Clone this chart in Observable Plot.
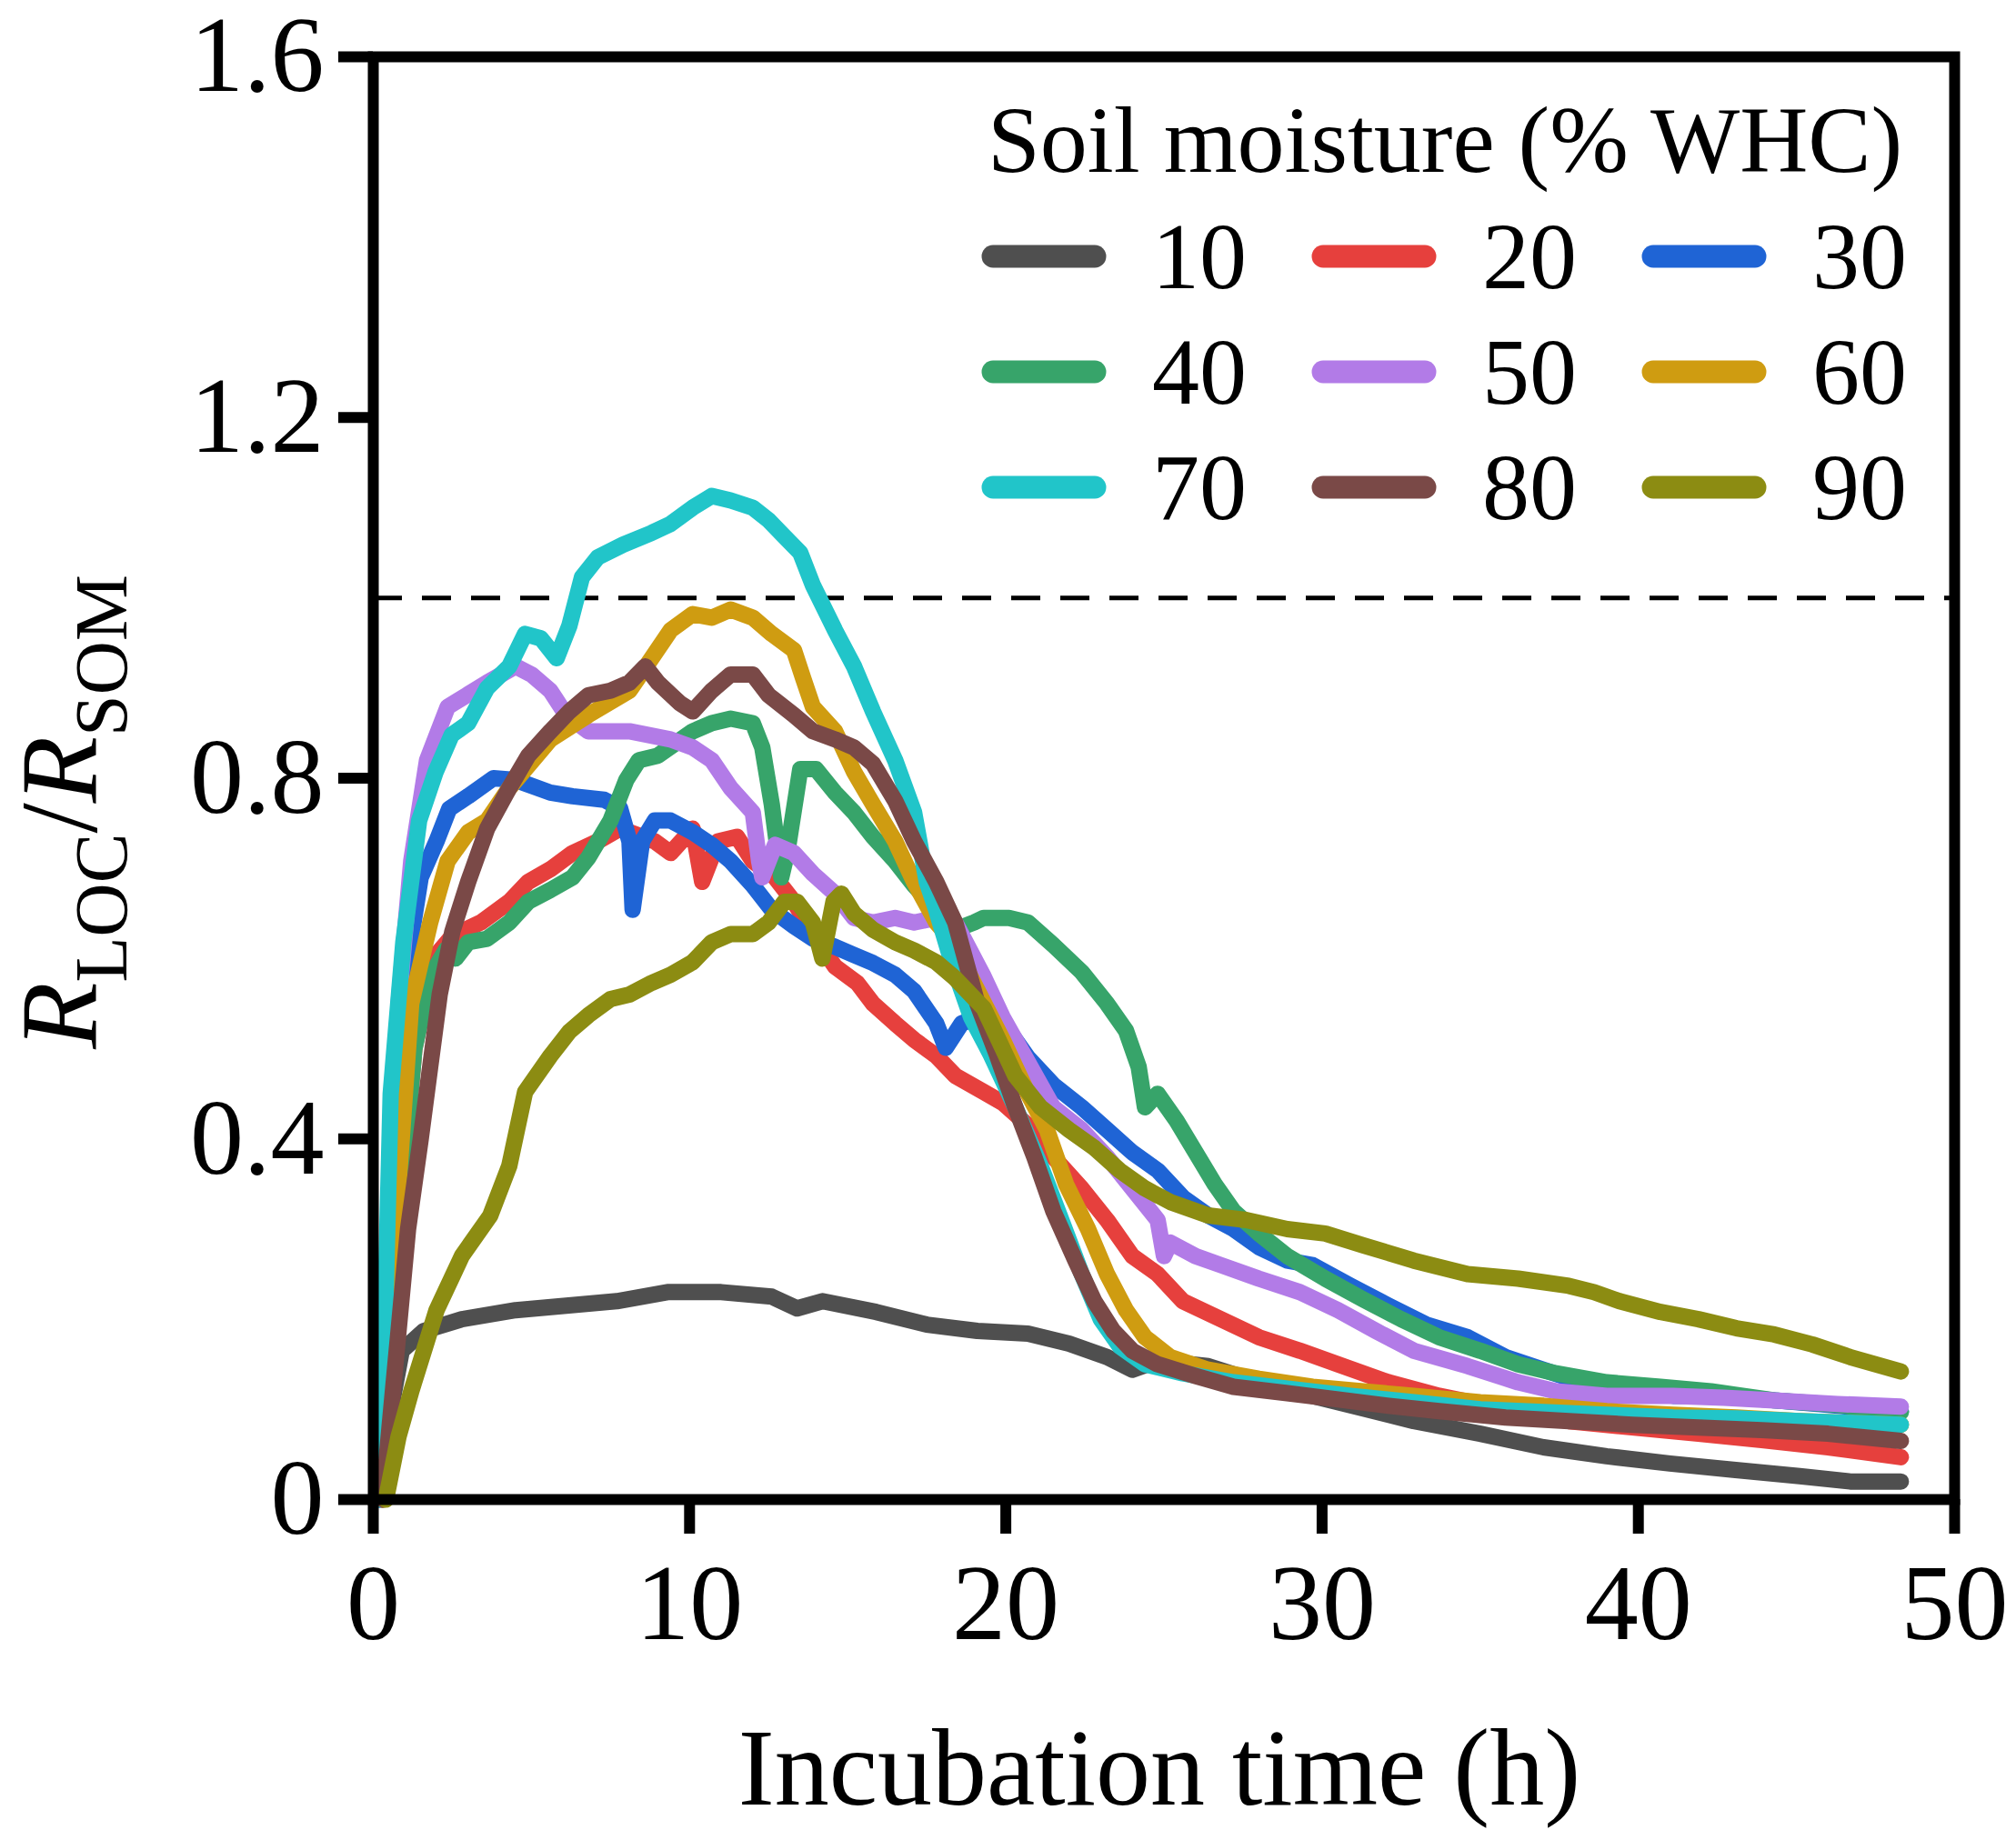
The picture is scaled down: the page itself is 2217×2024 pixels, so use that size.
<!DOCTYPE html>
<html><head><meta charset="utf-8">
<script src="https://cdn.jsdelivr.net/npm/d3@7"></script>
<script src="https://cdn.jsdelivr.net/npm/@observablehq/plot@0.6"></script>
<style>html,body{margin:0;padding:0;background:#fff;} #chart svg{display:block;}</style>
</head><body><div id="chart"></div>
<script>
// Soil moisture categories (% WHC) and their colours
const moisture = [10, 20, 30, 40, 50, 60, 70, 80, 90];
const colors = ["#4f4f4f", "#e6403d", "#1f64d5", "#37a46a", "#b27be7", "#cf9c11", "#21c5c9", "#7a4947", "#8c8c12"];
const xTicks = [0, 10, 20, 30, 40, 50];
const yTicks = [0, 0.4, 0.8, 1.2, 1.6];
const refLine = [1];

// [time (h), R_LOC/R_SOM]
const s10 = [[0.2,0],[0.5,0.09],[0.9,0.165],[1.6,0.187],[2.8,0.2],[4.5,0.21],[6.1,0.215],[7.7,0.22],[9.3,0.23],[11,0.23],[12.6,0.225],[13.4,0.212],[14.2,0.22],[15.9,0.208],[17.5,0.194],[19.1,0.187],[20.7,0.184],[22,0.173],[23.2,0.158],[24,0.144],[24.8,0.154],[26.4,0.148],[28,0.13],[29.7,0.115],[31.3,0.101],[32.9,0.087],[35,0.073],[37,0.058],[39,0.048],[41,0.04],[43,0.033],[45.1,0.026],[46.7,0.02],[48.3,0.02]];
const s20 = [[0.3,0],[0.8,0.3],[1.3,0.5],[1.9,0.6],[2.5,0.625],[3.4,0.64],[4.3,0.663],[4.9,0.685],[5.6,0.699],[6.3,0.717],[7.1,0.73],[7.8,0.744],[8.9,0.73],[9.4,0.717],[10.1,0.744],[10.4,0.685],[10.9,0.73],[11.5,0.735],[12,0.708],[12.7,0.69],[13.3,0.663],[13.9,0.627],[14.6,0.591],[15.3,0.573],[15.8,0.55],[16.5,0.528],[17.1,0.51],[17.8,0.492],[18.4,0.47],[19.3,0.452],[19.9,0.44],[20.7,0.415],[21.5,0.38],[22.4,0.345],[23.2,0.31],[24,0.27],[24.8,0.25],[25.6,0.22],[26.8,0.2],[28,0.18],[29.3,0.165],[30.5,0.15],[32.1,0.13],[33.7,0.115],[35.8,0.1],[37.8,0.087],[39.8,0.08],[41.9,0.073],[43.9,0.066],[46,0.058],[48.3,0.047]];
const s30 = [[0.2,0],[0.6,0.35],[1.0,0.58],[1.5,0.69],[2.0,0.73],[2.4,0.766],[3.0,0.78],[3.8,0.8],[4.5,0.798],[5.6,0.784],[6.3,0.78],[7.3,0.776],[7.8,0.767],[8.1,0.73],[8.2,0.654],[8.5,0.73],[8.9,0.753],[9.4,0.753],[10.1,0.74],[10.7,0.726],[11.3,0.708],[12,0.681],[12.6,0.654],[13.3,0.636],[13.9,0.622],[14.6,0.613],[15.2,0.604],[15.8,0.595],[16.5,0.582],[17.1,0.564],[17.8,0.528],[18.1,0.501],[18.6,0.528],[19.3,0.537],[19.9,0.53],[20.7,0.49],[21.5,0.46],[22.4,0.435],[23.2,0.41],[24,0.385],[24.8,0.365],[25.6,0.335],[26.4,0.315],[27.2,0.3],[28,0.28],[28.9,0.265],[29.7,0.26],[30.9,0.237],[32.1,0.215],[33.3,0.194],[34.6,0.18],[35.8,0.158],[37,0.144],[38.2,0.13],[39.4,0.123],[41.1,0.115],[42.7,0.115],[44.3,0.11],[46,0.105],[48.3,0.098]];
const s40 = [[0.3,0],[0.8,0.3],[1.3,0.5],[1.8,0.58],[2.3,0.61],[2.6,0.6],[3.0,0.618],[3.6,0.622],[4.3,0.64],[4.9,0.663],[5.6,0.676],[6.3,0.69],[6.8,0.712],[7.5,0.753],[8.0,0.798],[8.4,0.82],[9.0,0.825],[10.1,0.852],[10.7,0.861],[11.3,0.866],[12,0.861],[12.3,0.834],[12.6,0.771],[12.9,0.69],[13.1,0.72],[13.5,0.81],[14.0,0.81],[14.6,0.784],[15.2,0.762],[15.8,0.735],[16.5,0.708],[17.1,0.681],[17.8,0.654],[18.4,0.632],[19.0,0.64],[19.3,0.645],[20.1,0.645],[20.7,0.64],[21.5,0.615],[22.4,0.585],[23.2,0.55],[23.8,0.52],[24.2,0.48],[24.4,0.435],[24.8,0.45],[25.4,0.42],[26,0.385],[26.6,0.35],[27.2,0.32],[28,0.295],[28.9,0.27],[30.1,0.245],[31.3,0.222],[32.5,0.2],[33.7,0.18],[35,0.165],[36.2,0.15],[37.4,0.14],[39,0.13],[40.7,0.125],[42.3,0.12],[44.3,0.11],[46.3,0.105],[48.3,0.097]];
const s50 = [[0.2,0],[0.5,0.3],[0.8,0.55],[1.2,0.708],[1.7,0.82],[2.35,0.879],[3.0,0.893],[3.6,0.906],[4.5,0.924],[5.0,0.915],[5.6,0.897],[6.1,0.87],[6.8,0.852],[8.1,0.852],[9.4,0.843],[10.1,0.834],[10.7,0.82],[11.3,0.789],[12,0.762],[12.2,0.708],[12.3,0.69],[12.7,0.726],[13.3,0.717],[13.9,0.694],[14.6,0.672],[15.2,0.645],[15.8,0.64],[16.5,0.645],[17.1,0.64],[17.8,0.645],[18.4,0.64],[18.7,0.62],[19.3,0.58],[19.9,0.535],[20.7,0.485],[21.5,0.435],[22.4,0.41],[23.2,0.38],[24,0.345],[24.8,0.31],[25,0.27],[25.2,0.285],[26,0.27],[26.8,0.26],[28,0.245],[29.3,0.23],[30.5,0.21],[31.7,0.187],[32.9,0.165],[34.6,0.148],[36.2,0.13],[37.4,0.12],[39,0.115],[41.1,0.115],[42.7,0.113],[44.3,0.11],[46.3,0.106],[48.3,0.103]];
const s60 = [[0.3,0],[0.8,0.35],[1.2,0.55],[1.8,0.64],[2.35,0.708],[3.0,0.74],[3.6,0.753],[4.3,0.789],[5.6,0.843],[6.8,0.87],[8.1,0.897],[8.8,0.933],[9.4,0.964],[10.1,0.982],[10.7,0.978],[11.3,0.987],[12,0.978],[12.6,0.96],[13.3,0.942],[13.6,0.91],[13.9,0.879],[14.6,0.852],[15.2,0.807],[15.8,0.771],[16.5,0.73],[17.1,0.685],[17.8,0.64],[18.3,0.62],[19.1,0.565],[19.9,0.51],[20.7,0.45],[21.3,0.41],[21.9,0.35],[22.6,0.3],[23.2,0.25],[23.8,0.21],[24.4,0.18],[25.2,0.158],[26.4,0.144],[28,0.134],[29.7,0.125],[31.3,0.12],[32.9,0.115],[35,0.108],[37,0.104],[39,0.098],[41.1,0.094],[43.1,0.091],[45.1,0.087],[48.3,0.083]];
const s70 = [[0.2,0],[0.4,0.24],[0.55,0.45],[0.95,0.618],[1.45,0.753],[1.97,0.807],[2.48,0.848],[3.0,0.861],[3.6,0.9],[4.3,0.924],[4.8,0.96],[5.3,0.955],[5.8,0.933],[6.2,0.969],[6.6,1.023],[7.1,1.045],[7.9,1.059],[8.8,1.072],[9.4,1.082],[10.1,1.1],[10.7,1.113],[11.3,1.108],[12,1.1],[12.5,1.086],[13,1.068],[13.5,1.05],[13.9,1.014],[14.6,0.964],[15.2,0.924],[15.8,0.874],[16.5,0.82],[17.1,0.762],[17.5,0.685],[17.8,0.654],[18.3,0.595],[18.9,0.535],[19.5,0.495],[20.3,0.435],[21.1,0.37],[21.7,0.315],[22.4,0.25],[23,0.2],[23.6,0.17],[24.4,0.15],[25.6,0.14],[27.2,0.13],[28.9,0.123],[30.9,0.115],[32.9,0.108],[35,0.1],[37,0.097],[39,0.094],[41.1,0.091],[43.1,0.09],[45.1,0.087],[48.3,0.083]];
const s80 = [[0.3,0],[0.7,0.15],[1.1,0.3],[1.5,0.4],[1.8,0.48],[2.1,0.56],[2.5,0.63],[3.0,0.685],[3.6,0.744],[4.3,0.789],[4.9,0.825],[5.6,0.852],[6.2,0.874],[6.8,0.892],[7.5,0.897],[8.1,0.906],[8.6,0.924],[9.0,0.906],[9.7,0.883],[10.1,0.874],[10.7,0.897],[11.3,0.915],[12,0.915],[12.5,0.892],[13.3,0.87],[13.9,0.852],[14.6,0.843],[15.2,0.834],[15.8,0.816],[16.5,0.775],[17.1,0.73],[17.8,0.685],[18.4,0.64],[19.1,0.55],[19.7,0.495],[20.3,0.435],[20.9,0.38],[21.5,0.32],[22.2,0.265],[22.8,0.22],[23.4,0.187],[24,0.165],[24.8,0.15],[26,0.137],[27.2,0.125],[28.9,0.118],[30.5,0.111],[32.1,0.104],[33.7,0.098],[35.8,0.091],[37.8,0.087],[39.8,0.083],[41.9,0.08],[43.9,0.077],[46,0.073],[48.3,0.065]];
const s90 = [[0.4,0],[0.8,0.07],[1.2,0.12],[2.0,0.21],[2.8,0.27],[3.7,0.315],[4.3,0.37],[4.8,0.452],[5.6,0.492],[6.2,0.519],[6.8,0.537],[7.5,0.555],[8.1,0.56],[8.8,0.573],[9.4,0.582],[10.1,0.596],[10.7,0.618],[11.3,0.627],[12,0.627],[12.5,0.64],[13,0.663],[13.4,0.663],[13.9,0.64],[14.2,0.6],[14.55,0.663],[14.8,0.672],[15.2,0.65],[15.8,0.632],[16.5,0.618],[17.1,0.609],[17.8,0.596],[18.4,0.578],[19.3,0.545],[19.9,0.5],[20.3,0.47],[21.1,0.435],[22,0.41],[22.8,0.39],[23.6,0.365],[24.4,0.345],[25.2,0.33],[26.4,0.315],[27.6,0.31],[28.9,0.3],[30.1,0.295],[31.3,0.282],[32.9,0.265],[34.6,0.25],[36.2,0.245],[37.8,0.237],[38.6,0.23],[39.4,0.22],[40.7,0.208],[41.9,0.2],[43.1,0.19],[44.3,0.183],[45.5,0.172],[46.7,0.158],[48.3,0.142]];

const seriesList = [s10, s20, s30, s40, s50, s60, s70, s80, s90];
const rows = seriesList.flatMap((s, i) => s.map(([t, v]) => ({t, v, m: moisture[i]})));

const W = 2217, H = 2024, ML = 410, MR = 68, MT = 62, MB = 375;
const FONT = "'Liberation Serif','Times New Roman',serif";

const chart = Plot.plot({
  width: W, height: H,
  marginLeft: ML, marginRight: MR, marginTop: MT, marginBottom: MB,
  style: {fontFamily: FONT, fontSize: "118px", color: "#000", background: "#fff", overflow: "visible"},
  x: {domain: [0, 50], axis: null},
  y: {domain: [0, 1.6], axis: null},
  color: {domain: moisture, range: colors},
  marks: [
    Plot.ruleY(refLine, {stroke: "#000", strokeWidth: 5, strokeDasharray: "32,22"}),
    Plot.line(rows, {x: "t", y: "v", z: "m", stroke: "m", strokeWidth: 18, strokeLinejoin: "round", strokeLinecap: "round"}),
    Plot.frame({stroke: "#000", strokeWidth: 12}),
    Plot.axisX({ticks: xTicks, tickSize: 38, tickPadding: 32, strokeWidth: 12, fontSize: 118, tickFormat: d => String(d), label: null}),
    Plot.axisY({ticks: yTicks, tickSize: 38, tickPadding: 16, strokeWidth: 12, fontSize: 118, tickFormat: d => String(d), label: null})
  ]
});
document.getElementById("chart").appendChild(chart);

const svg = d3.select(chart);
// x-axis title
svg.append("text").attr("x", 1275).attr("y", 1985).attr("text-anchor", "middle")
  .attr("font-size", 120).attr("fill", "#000").text("Incubation time (h)");
// y-axis title with subscripts
const yl = svg.append("text").attr("transform", "translate(106,893) rotate(-90)")
  .attr("text-anchor", "middle").attr("font-size", 120).attr("fill", "#000");
yl.append("tspan").attr("font-style", "italic").text("R");
yl.append("tspan").attr("font-size", 82).attr("dy", 33).text("LOC");
yl.append("tspan").attr("dy", -33).text("/");
yl.append("tspan").attr("font-style", "italic").text("R");
yl.append("tspan").attr("font-size", 82).attr("dy", 33).text("SOM");

// legend
const lg = svg.append("g").attr("font-size", 104).attr("fill", "#000").attr("text-anchor", "start");
lg.append("text").attr("x", 1086).attr("y", 189).attr("text-anchor", "start").text("Soil moisture (% WHC)");
moisture.forEach((m, i) => {
  const col = i % 3, row = Math.floor(i / 3);
  const x0 = 1092 + col * 363, cy = 282 + row * 127;
  lg.append("line").attr("x1", x0).attr("x2", x0 + 112).attr("y1", cy).attr("y2", cy)
    .attr("stroke", colors[i]).attr("stroke-width", 25).attr("stroke-linecap", "round");
  lg.append("text").attr("x", x0 + 175).attr("y", cy + 35).attr("text-anchor", "start").text(m);
});
</script>
</body></html>
